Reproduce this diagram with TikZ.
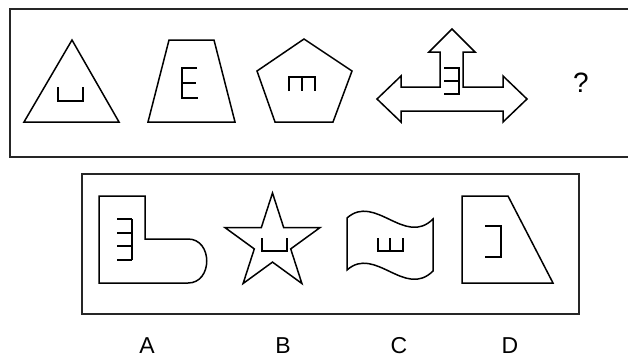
\documentclass[tikz,border=0pt]{standalone}
\usepackage{fontspec}
\setmainfont{Liberation Sans}
\begin{document}
\begin{tikzpicture}[x=1pt,y=-1pt,
  frameline/.style={draw=black!85,line width=1.9pt},
  figline/.style={draw=black,line width=1.5pt,line join=miter},
  glyphline/.style={draw=black,line width=1.4pt},
  lbltext/.style={font=\fontsize{23}{23}\selectfont,anchor=base,inner sep=0pt}]
\useasboundingbox (0,0) rectangle (628,357);
\begin{scope}
\clip (0,0) rectangle (628,357);
% frames
\draw[frameline] (10,9) rectangle (640,157);
\draw[frameline] (82,174) rectangle (579,314);
% top row
\draw[figline] (72,40) -- (119,122) -- (24,122) -- cycle;
\draw[glyphline] (58,87) -- (58,101) -- (83,101) -- (83,87);
\draw[figline] (169,40) -- (214,40) -- (235,122) -- (148,122) -- cycle;
\draw[glyphline] (197,68) -- (182,68) -- (182,98) -- (198,98);
\draw[glyphline] (182,83) -- (196,83);
\draw[figline] (304,39) -- (352,71) -- (333,122) -- (275,122) -- (257,71) -- cycle;
\draw[glyphline] (289,91) -- (289,77) -- (315,77) -- (315,91);
\draw[glyphline] (302,77) -- (302,91);
\draw[figline] (452,29) -- (475,52) -- (463,52) -- (463,87) -- (503,87) -- (503,76)
  -- (527,99) -- (503,122) -- (503,111) -- (401,111) -- (401,122) -- (377,99)
  -- (401,76) -- (401,87) -- (440,87) -- (440,52) -- (429,52) -- cycle;
\draw[glyphline] (444,68) -- (459,68) -- (459,94) -- (444,94);
\draw[glyphline] (444,81) -- (459,81);
% answers
\draw[figline] (99,196) -- (145,196) -- (145,239) -- (188,239)
  .. controls (213,239) and (213,283) .. (188,283) -- (99,283) -- cycle;
\draw[glyphline] (132,219) -- (132,260);
\foreach \y in {219,233,246,260} \draw[glyphline] (117,\y) -- (132,\y);
\draw[figline] (272.5,193) -- (283.7,227.6) -- (320,227.6) -- (290.7,248.9)
  -- (301.9,283.5) -- (272.5,262.1) -- (243.1,283.5) -- (254.3,248.9)
  -- (225,227.6) -- (261.3,227.6) -- cycle;
\draw[glyphline] (262,238) -- (262,251) -- (287,251) -- (287,238);
\draw[figline] (347,218) .. controls (375,193) and (405,247) .. (433,219)
  -- (433,271) .. controls (405,299) and (375,245) .. (347,270) -- cycle;
\draw[glyphline] (378,238) -- (378,251) -- (403,251) -- (403,238);
\draw[glyphline] (390,238) -- (390,251);
\draw[figline] (462,196) -- (508,196) -- (553,283) -- (462,283) -- cycle;
\draw[glyphline] (485,226) -- (501,226) -- (501,257) -- (485,257);
\end{scope}
\node[lbltext,font=\fontsize{28}{28}\selectfont] (q) at (581,92) {?};
\node[lbltext] (la) at (147,353) {A};
\node[lbltext] (lb) at (283,353) {B};
\node[lbltext] (lc) at (399,353) {C};
\node[lbltext] (ld) at (510,353) {D};
\end{tikzpicture}
\end{document}
